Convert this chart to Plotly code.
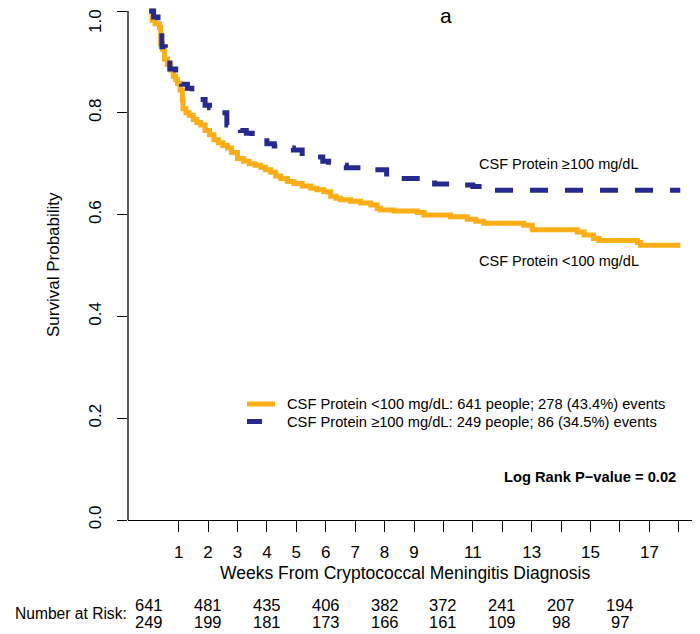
import plotly.graph_objects as go

# ---- data ----
weeks_lo = [0, 0.10, 0.20, 0.35, 0.39, 0.45, 0.52, 0.62, 0.73, 0.82, 0.90, 0.96, 1.05, 1.13, 1.15,
            1.25, 1.36, 1.50, 1.62, 1.75, 1.90, 2.05, 2.20, 2.35, 2.50, 2.66, 2.80, 3.00, 3.20,
            3.40, 3.60, 3.79, 3.95, 4.13, 4.30, 4.47, 4.70, 4.92, 5.20, 5.49, 5.70, 5.94, 6.17,
            6.35, 6.51, 6.85, 7.19, 7.53, 7.75, 7.87, 8.32, 9.11, 9.34, 10.24, 10.81, 11.10,
            11.37, 12.73, 13.02, 14.55, 14.78, 15.10, 15.28, 16.59, 16.70, 18.05]
surv_lo = [1.0, 0.982, 0.975, 0.968, 0.935, 0.925, 0.905, 0.895, 0.884, 0.872, 0.865, 0.858, 0.845,
           0.825, 0.808, 0.800, 0.795, 0.787, 0.781, 0.776, 0.765, 0.757, 0.747, 0.741, 0.736,
           0.731, 0.722, 0.710, 0.705, 0.700, 0.697, 0.693, 0.688, 0.683, 0.676, 0.671, 0.665,
           0.661, 0.656, 0.652, 0.649, 0.645, 0.636, 0.632, 0.629, 0.626, 0.623, 0.619, 0.612,
           0.609, 0.607, 0.604, 0.599, 0.596, 0.591, 0.587, 0.583, 0.579, 0.570, 0.566, 0.560,
           0.553, 0.549, 0.545, 0.540, 0.540]

weeks_hi = [0, 0.15, 0.30, 0.43, 0.55, 0.70, 0.90, 1.10, 1.30, 1.45, 1.70, 1.90, 2.05, 2.30, 2.64,
            2.90, 3.10, 3.30, 3.50, 3.80, 4.00, 4.25, 4.50, 4.90, 5.20, 5.60, 5.90, 6.10, 6.40,
            6.70, 7.30, 8.07, 8.30, 9.30, 9.70, 10.50, 11.00, 11.50, 18.05]
surv_hi = [1.0, 0.988, 0.964, 0.930, 0.905, 0.886, 0.862, 0.856, 0.848, 0.840, 0.826, 0.815, 0.810,
           0.800, 0.776, 0.770, 0.765, 0.760, 0.752, 0.745, 0.739, 0.735, 0.731, 0.727, 0.715,
           0.713, 0.705, 0.703, 0.697, 0.692, 0.688, 0.674, 0.671, 0.668, 0.660, 0.658, 0.655,
           0.648, 0.648]

risk_weeks = [0, 2, 4, 6, 8, 10, 12, 14, 16]
risk_lo = [641, 481, 435, 406, 382, 372, 241, 207, 194]
risk_hi = [249, 199, 181, 173, 166, 161, 109, 98, 97]

x_tickvals = list(range(1, 19))
x_ticktext = ["1", "2", "3", "4", "5", "6", "7", "8", "9", "", "11", "", "13", "", "15", "", "17", ""]
y_tickvals = [0, 0.2, 0.4, 0.6, 0.8, 1.0]
# the top label ("1.0") is drawn separately so it is not clipped at the page top
y_ticktext = ["0.0", "0.2", "0.4", "0.6", "0.8", ""]
y_top_label = "1.0"

label_lo = "CSF Protein &lt;100 mg/dL"
label_hi = "CSF Protein \u2265100 mg/dL"
legend_lo = "CSF Protein &lt;100 mg/dL: 641 people; 278 (43.4%) events"
legend_hi = "CSF Protein \u2265100 mg/dL: 249 people; 86 (34.5%) events"

ORANGE = "#FBAE17"
NAVY = "#262A8E"
FONT = "Liberation Sans, Arial, Helvetica, sans-serif"

# page body has an 8px margin, so the figure is sized/placed to compensate
OFF = 8
FW, FH = 700 - OFF, 634 - OFF
ML, MR, MT, MB = 128 - OFF, 0, 0, 114
PW = FW - ML - MR          # 572
PH = FH - MT - MB          # 512
Y_TOP = PH / 509.0         # y-range top so that 1.0 sits at window row 11


def py(win_y):
    """window pixel row -> paper y"""
    return (520 - win_y) / PH


def pxx(win_x):
    """window pixel column -> paper x"""
    return (win_x - 128) / PW


fig = go.Figure()
fig.add_trace(go.Scatter(x=weeks_lo, y=surv_lo, mode="lines",
                         line=dict(shape="hv", color=ORANGE, width=5), name=legend_lo))
fig.add_trace(go.Scatter(x=weeks_hi, y=surv_hi, mode="lines",
                         line=dict(shape="hv", color=NAVY, width=5, dash="18px,17px"), name=legend_hi))

annotations = []
# risk table
for w, a, b in zip(risk_weeks, risk_lo, risk_hi):
    annotations.append(dict(x=w, y=py(605), xref="x", yref="paper", text=str(a), showarrow=False,
                            font=dict(size=16.5), xanchor="center", yanchor="middle"))
    annotations.append(dict(x=w, y=py(621.5), xref="x", yref="paper", text=str(b), showarrow=False,
                            font=dict(size=16.5), xanchor="center", yanchor="middle"))
annotations.append(dict(x=pxx(129), y=py(613), xref="paper", yref="paper", text="Number at Risk:",
                        showarrow=False, font=dict(size=15.6), xanchor="right", yanchor="middle"))
# top y tick label
annotations.append(dict(x=pxx(95), y=py(21), xref="paper", yref="paper", text=y_top_label,
                        showarrow=False, font=dict(size=17), textangle=-90, xanchor="center",
                        yanchor="middle"))
# axis titles
annotations.append(dict(x=pxx(405), y=py(573), xref="paper", yref="paper",
                        text="Weeks From Cryptococcal Meningitis Diagnosis", showarrow=False,
                        font=dict(size=17.5), xanchor="center", yanchor="middle"))
annotations.append(dict(x=pxx(53), y=py(265), xref="paper", yref="paper", text="Survival Probability",
                        showarrow=False, font=dict(size=17), textangle=-90, xanchor="center",
                        yanchor="middle"))
# curve labels
annotations.append(dict(x=pxx(477), y=py(164), xref="paper", yref="paper", text=label_hi,
                        showarrow=False, font=dict(size=14.5), xanchor="left", yanchor="middle"))
annotations.append(dict(x=pxx(477), y=py(261), xref="paper", yref="paper", text=label_lo,
                        showarrow=False, font=dict(size=14.5), xanchor="left", yanchor="middle"))
annotations.append(dict(x=pxx(446), y=py(15), xref="paper", yref="paper", text="a",
                        showarrow=False, font=dict(size=21), xanchor="center", yanchor="middle"))
annotations.append(dict(x=pxx(678), y=py(477), xref="paper", yref="paper",
                        text="<b>Log Rank P\u2212value = 0.02</b>",
                        showarrow=False, font=dict(size=14.7), xanchor="right", yanchor="middle"))
# legend texts
annotations.append(dict(x=pxx(285), y=py(404), xref="paper", yref="paper", text=legend_lo,
                        showarrow=False, font=dict(size=14.7), xanchor="left", yanchor="middle"))
annotations.append(dict(x=pxx(285), y=py(421.5), xref="paper", yref="paper", text=legend_hi,
                        showarrow=False, font=dict(size=14.7), xanchor="left", yanchor="middle"))

shapes = [
    # y axis line from 0 to 1
    dict(type="line", xref="paper", yref="y", x0=0, x1=0, y0=0, y1=1,
         line=dict(color="black", width=1.3)),
    # legend keys
    dict(type="line", xref="paper", yref="paper", x0=pxx(247), x1=pxx(275), y0=py(404), y1=py(404),
         line=dict(color=ORANGE, width=5)),
    dict(type="line", xref="paper", yref="paper", x0=pxx(247), x1=pxx(262), y0=py(421.5), y1=py(421.5),
         line=dict(color=NAVY, width=5)),
]

fig.update_layout(
    width=FW, height=FH,
    margin=dict(l=ML, r=MR, t=MT, b=MB, autoexpand=False),
    paper_bgcolor="white", plot_bgcolor="white",
    font=dict(family=FONT, color="black"),
    showlegend=False,
    annotations=annotations,
    shapes=shapes,
)
fig.update_xaxes(range=[-0.72, 18.72], tickvals=x_tickvals, ticktext=x_ticktext, ticks="outside",
                 ticklen=11, tickwidth=1.3, tickcolor="black", showline=True, linecolor="black",
                 linewidth=1.3, showgrid=False, zeroline=False, tickfont=dict(size=17),
                 ticklabelstandoff=5, automargin=False)
fig.update_yaxes(range=[0, Y_TOP], tickvals=y_tickvals, ticktext=y_ticktext, ticks="outside",
                 ticklen=10, tickwidth=1.3, tickcolor="black", showline=False, showgrid=False,
                 zeroline=False, tickangle=-90, tickfont=dict(size=17), ticklabelstandoff=9,
                 ticklabeloverflow="allow", automargin=False)

fig.write_html("out.html")
